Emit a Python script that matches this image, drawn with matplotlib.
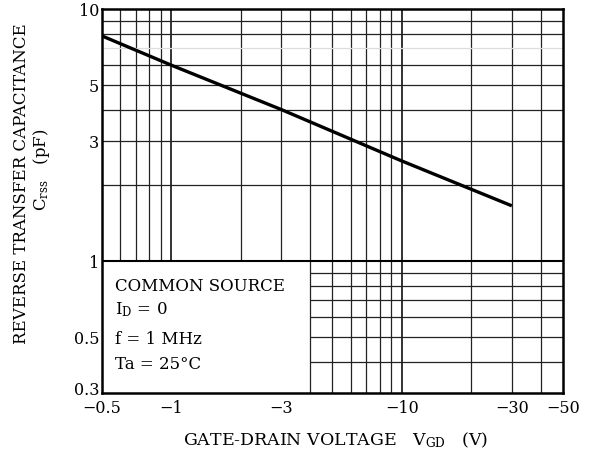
import matplotlib
matplotlib.use('Agg')
import matplotlib.pyplot as plt
import matplotlib.transforms as mtransforms
import numpy as np

# curve (|V_GD| in volts, Crss in pF)
vgd = [0.5, 1, 3, 10, 30]
crss = [7.84, 6.0, 4.0, 2.5, 1.66]

x_ticks = [0.5, 1, 3, 10, 30, 50]
x_labels = ['\u22120.5', '\u22121', '\u22123', '\u221210', '\u221230', '\u221250']
y_ticks = [0.3, 0.5, 1, 3, 5, 10]
y_labels = ['0.3', '0.5', '1', '3', '5', '10']

x_grid = [0.6, 0.7, 0.8, 0.9, 1, 2, 3, 4, 5, 6, 7, 8, 9, 10, 20, 30, 40]
y_grid_up = [2, 3, 4, 5, 6, 8, 9]
y_grid_low = [0.4, 0.5, 0.6, 0.7, 0.8, 0.9]
box_edge = 4  # right edge of the condition box

conditions = ['COMMON SOURCE', r'I$_\mathrm{D}$ = 0', 'f = 1 MHz', 'Ta = 25\u00b0C']
cond_y = [0.805, 0.655, 0.496, 0.395]

plt.rcParams['font.family'] = ['DejaVu Serif']
plt.rcParams['mathtext.fontset'] = 'dejavuserif'

fig = plt.figure(figsize=(5.9, 4.59), dpi=100)
ax = fig.add_axes([0.1729, 0.1438, 0.7813, 0.8359])
ax.set_xscale('log')
ax.set_yscale('log')
ax.set_xlim(0.5, 50)
ax.set_ylim(0.3, 10)

gc = '#222222'
# upper part of grid (above 1 pF) gets every vertical line,
# the lower part only right of the condition box
for x in x_grid:
    lw = 1.3 if x in (1, 10) else 0.9
    ax.vlines(x, 1, 10, color=gc, lw=lw, zorder=1)
    if x >= box_edge:
        ax.vlines(x, 0.3, 1, color=gc, lw=lw, zorder=1)
for y in y_grid_up:
    ax.hlines(y, 0.5, 50, color=gc, lw=0.9, zorder=1)
ax.hlines(7, 0.5, 50, color='#dddddd', lw=0.9, zorder=1)
for y in y_grid_low:
    ax.hlines(y, box_edge, 50, color=gc, lw=0.9, zorder=1)
ax.hlines(1, 0.5, 50, color='black', lw=1.5, zorder=1)

ax.plot(vgd, crss, color='black', lw=2.4, solid_capstyle='butt', zorder=3)

# condition text in the lower-left box
for t, y in zip(conditions, cond_y):
    ax.text(0.57, y, t, fontsize=12, va='center_baseline', ha='left')

ax.set_xticks(x_ticks)
ax.set_xticklabels(x_labels)
ax.set_yticks(y_ticks)
ax.set_yticklabels(y_labels)
ax.minorticks_off()
ax.tick_params(length=0, labelsize=11.5)
ax.tick_params(axis='x', pad=5)
ax.tick_params(axis='y', pad=2)
for s in ax.spines.values():
    s.set_linewidth(1.8)

# lift the 0.3 label a bit so it clears -0.5
lab = ax.get_yticklabels()[0]
lab.set_transform(lab.get_transform() + mtransforms.ScaledTranslation(0, 3 / 72, fig.dpi_scale_trans))

fig.text(0.568, 0.04, r'GATE-DRAIN VOLTAGE   V$_\mathrm{GD}$   (V)', fontsize=12.5,
         ha='center', va='center')
fig.text(0.036, 0.6, 'REVERSE TRANSFER CAPACITANCE', fontsize=12, rotation=90,
         ha='center', va='center')
fig.text(0.07, 0.63, r'C$_\mathrm{rss}$   (pF)', fontsize=12, rotation=90,
         ha='center', va='center')

fig.savefig('out.png', dpi=100)
